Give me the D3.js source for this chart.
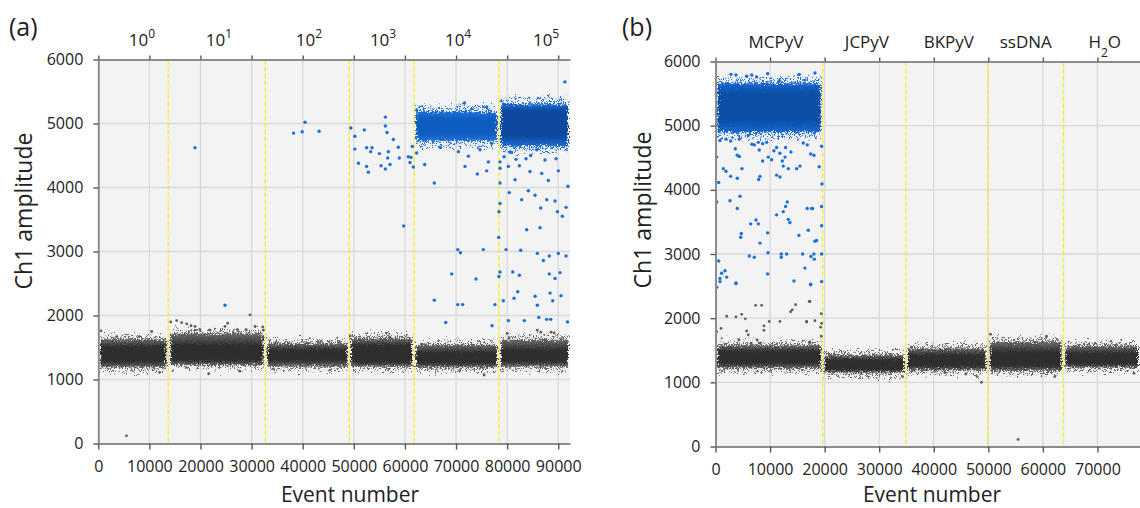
<!DOCTYPE html>
<html>
<head>
<meta charset="utf-8">
<script src="https://cdn.jsdelivr.net/npm/d3@7"></script>
<style>
  body { margin: 0; background: #fff; }
  svg text { font-family: "Open Sans", "Noto Sans", sans-serif; fill: #222; }
</style>
</head>
<body>
<svg id="chart" width="1140" height="508"></svg>
<script>
// ---- panel (a): dilution series ----
var wellStartA = [0, 13700, 32700, 49100, 61800, 78400];
var wellEndA   = [13700, 32700, 49100, 61800, 78400, 92300];
var wellLabelA = ["10^{0}", "10^{1}", "10^{2}", "10^{3}", "10^{4}", "10^{5}"];
var labelAtA   = [8550, 23620, 41230, 55720, 70400, 87620];
var negLoA     = [1190, 1225, 1200, 1200, 1190, 1200];
var negHiA     = [1630, 1720, 1565, 1640, 1540, 1620];
var negCoreLoA = [1280, 1300, 1300, 1270, 1260, 1280];
var negCoreHiA = [1510, 1530, 1460, 1530, 1420, 1460];
var posLoA     = [null, null, null, null, 4730, 4650];
var posHiA     = [null, null, null, null, 5180, 5300];
var posCoreLoA = [null, null, null, null, 4860, 4800];
var posCoreHiA = [null, null, null, null, 5070, 5200];

var blueA = [
  [18920,4620],[24790,2160],[38200,4850],[39900,4870],[40450,5020],[43200,4880],
  [49400,4930],[50200,4800],[52050,4900],[50200,4600],[50900,4380],[52500,4620],
  [53560,4620],[53300,4560],[52500,4330],[52840,4240],[55000,4530],[55330,4340],
  [56170,5100],[56170,4960],[56500,4860],[57730,4750],[56750,4560],[56630,4460],
  [57080,4360],[56170,4290],[58700,4630],[58900,4460],[60670,4480],[61000,4390],
  [61200,4470],[61640,4320],[61450,4640],[59760,3400],[62300,4540],[63870,4360],
  [65750,4070],[70340,3030],[70860,2980],[75340,3030],[69150,2650],[73900,2570],
  [65750,2240],[70340,2170],[71300,2170],[67990,1890],[77050,1840],[77600,2170],
  [78350,3220],[78400,3620],[78600,3750],[78600,2680],[78400,2610],[78600,4070],
  [80430,3920],[82850,3810],[84150,3950],[85460,3880],[86570,3680],[87740,3810],
  [89370,3790],[89830,3620],[91530,3690],[83830,3340],[86440,3370],[79790,3030],
  [82660,3020],[85910,2970],[87090,2860],[88260,2930],[90020,2970],[91530,2930],
  [81100,2680],[82390,2630],[88260,2650],[90350,2670],[89370,2580],[82070,2370],
  [81350,2270],[85460,2300],[88400,2350],[88920,2230],[90550,2310],[85910,2160],
  [79260,2230],[80240,1920],[83370,1920],[86190,1970],[87740,1940],[88530,1940],
  [80570,4550],[81740,4440],[83700,4450],[85790,4590],[87400,4430],[89570,4450],
  [80240,4330],[82390,4340],[84480,4250],[86770,4220],[88060,4110],[90020,4260],
  [78600,4400],[78600,4300],[81550,4120],[63600,4740],[66870,4630],[70460,4560],
  [72410,4490],[74170,4210],[76320,4400],[74700,4590],[71760,4330],[76000,4260],
  [76990,4690],[62300,5210],[71660,5320],[76000,5260],[91300,5650],[91800,1900],
  [90800,3550],[91900,4020],[84600,4500],[79400,4480]
];
var grayA = [
  [10450,1750],[8030,1670],[3600,1670],[530,1760],[14170,1900],[15340,1920],
  [16320,1890],[17300,1870],[18140,1840],[18920,1830],[19900,1780],[21860,1770],
  [25320,1880],[24790,1830],[27200,1780],[28900,1780],[29690,2010],[30670,1830],
  [32170,1820],[32290,1770],[5500,120],[21600,1090],[27700,1130],[12000,1110],
  [75500,1070],[70700,1140],[80000,1720],[80400,1650],[81500,1600],[85900,1770],
  [86600,1740],[88600,1740],[89200,1730],[49300,1680],[43000,1590],[57000,1660]
];

// ---- panel (b): specificity ----
var wellStartB = [0, 19630, 34890, 49910, 63770];
var wellEndB   = [19630, 34890, 49910, 63770, 77800];
var wellLabelB = ["MCPyV", "JCPyV", "BKPyV", "ssDNA", "H_{2}O"];
var labelAtB   = [11080, 27750, 42770, 56870, 71340];
var negLoB     = [1220, 1150, 1190, 1180, 1230];
var negHiB     = [1580, 1425, 1530, 1630, 1565];
var negCoreLoB = [1300, 1200, 1255, 1255, 1285];
var negCoreHiB = [1480, 1350, 1425, 1475, 1450];
var posLoB     = [4900, null, null, null, null];
var posHiB     = [5660, null, null, null, null];
var posCoreLoB = [5085, null, null, null, null];
var posCoreHiB = [5500, null, null, null, null];

var blueB = [
  [220,4510],[590,4115],[220,3810],[700,4910],[820,4770],[1920,4790],[2780,4760],
  [3630,4640],[4060,4890],[4360,4790],[6010,4850],[6680,4710],[7110,4700],[7840,4740],
  [8640,4720],[9380,4740],[8020,4620],[3990,4540],[4360,4520],[1430,4330],[1920,4290],
  [2780,4210],[3990,4180],[4850,4330],[7910,4160],[8150,4210],[8640,4450],[9670,4510],
  [10290,4470],[10710,4610],[11200,4660],[11810,4570],[12240,4450],[12420,4370],
  [12730,4510],[12850,4660],[11200,4230],[11810,4200],[13340,4330],[13830,4590],
  [14870,4330],[15480,4370],[16080,4730],[16810,4700],[17440,4560],[18040,4540],
  [19010,4360],[19450,4680],[19510,4090],[19450,3740],[19450,3440],[19450,3000],
  [19450,2570],[2660,3830],[4490,3900],[3990,3710],[4730,3320],[4620,3260],[6450,3470],
  [7420,3530],[7840,3470],[8150,3170],[9560,3330],[11200,3610],[12420,3660],[12850,3740],
  [13150,3810],[13340,3540],[13640,3490],[15290,3290],[15970,3000],[16810,3710],
  [17610,3710],[17000,3370],[17800,3710],[17490,2960],[18100,2920],[18220,3200],
  [18530,3210],[18040,3000],[16390,2780],[17440,2530],[14380,2580],[12050,3000],
  [12050,2950],[13040,3000],[9620,3020],[9560,2690],[6190,2970],[7110,2950],[3750,2550],
  [590,2890],[820,2620],[1130,2700],[1740,2740],[2050,2640],[220,2480],[820,2570],
  [3750,2540],[17440,2520],[2840,5800],[3750,5790],[5710,5770],[6630,5790],[7540,5760],
  [9560,5810],[15350,5800],[18220,5820],[11690,5700],[16390,5710]
];
var grayB = [
  [220,1790],[1010,1840],[2050,2030],[3750,2020],[4800,2060],[5460,1990],[4300,1660],
  [5710,1800],[6010,1740],[6500,1610],[7360,2200],[8460,2200],[7650,1660],[8150,1610],
  [8880,1880],[8880,1810],[9850,1950],[11810,1950],[13770,2100],[14070,2130],[14690,2210],
  [16700,1950],[17180,2260],[17310,1630],[17310,1540],[18220,1960],[19380,2070],
  [19450,1920],[19380,1720],[17310,2260],[16700,1940],[17180,1620],[19270,1860],
  [34290,1090],[42030,1150],[45880,1130],[47950,1090],[48750,1000],[55460,110],
  [62180,1090],[76700,1140],[50400,1750],[60660,1720],[35930,1550]
];

var yTicks = [0, 1000, 2000, 3000, 4000, 5000, 6000];

var svg = d3.select("#chart");
var defs = svg.append("defs");

// ragged, grainy edges for the dense clusters
function roughFilter(id, freq, scale) {
  var f = defs.append("filter").attr("id", id)
    .attr("x", "-5%").attr("y", "-60%").attr("width", "110%").attr("height", "220%");
  f.append("feTurbulence").attr("type", "fractalNoise").attr("baseFrequency", freq)
    .attr("numOctaves", 2).attr("seed", 4).attr("result", "noise");
  f.append("feDisplacementMap").attr("in", "SourceGraphic").attr("in2", "noise")
    .attr("scale", scale).attr("xChannelSelector", "R").attr("yChannelSelector", "G");
}
roughFilter("rough", 0.7, 9);
roughFilter("scatter", 0.35, 16);

function dotPattern(id, color) {
  var p = defs.append("pattern").attr("id", id).attr("patternUnits", "userSpaceOnUse")
    .attr("width", 11).attr("height", 9);
  [[2,2],[8,4],[5,7],[10,8],[1,6],[9,1],[5,3]].forEach(function(d) {
    p.append("circle").attr("cx", d[0]).attr("cy", d[1]).attr("r", 1.2).attr("fill", color);
  });
}
dotPattern("fringeGray", "#666");
dotPattern("fringeBlue", "#1f6fd6");

function richText(sel, s, small) {
  var parts = s.split(/([_^]\{[^}]*\})/);
  parts.forEach(function(t) {
    if (!t) return;
    if (t[0] === "^" || t[0] === "_") {
      sel.append("tspan").attr("font-size", small)
        .attr("baseline-shift", t[0] === "^" ? "super" : "sub").text(t.slice(2, -1));
    } else {
      sel.append("tspan").text(t);
    }
  });
}

var gradN = 0;
function bandGradient(lo, hi, cLo, cHi, edge, core) {
  var id = "bg" + (gradN++);
  var g = defs.append("linearGradient").attr("id", id)
    .attr("x1", 0).attr("y1", 0).attr("x2", 0).attr("y2", 1);
  var a = (hi - cHi) / (hi - lo), b = (hi - cLo) / (hi - lo);
  g.append("stop").attr("offset", 0).attr("stop-color", edge);
  g.append("stop").attr("offset", a).attr("stop-color", core);
  g.append("stop").attr("offset", b).attr("stop-color", core);
  g.append("stop").attr("offset", 1).attr("stop-color", edge);
  return "url(#" + id + ")";
}

function drawPanel(p) {
  var x = d3.scaleLinear().domain([0, p.xMax]).range([p.left, p.right]);
  var y = d3.scaleLinear().domain([0, 6000]).range([p.bottom, p.top]);
  var xTicks = d3.range(0, p.xMax, 10000);
  var g = svg.append("g");

  defs.append("clipPath").attr("id", "clip" + p.id).append("rect")
    .attr("x", p.left).attr("y", p.top)
    .attr("width", p.right - p.left).attr("height", p.bottom - p.top);

  g.append("rect").attr("x", p.left).attr("y", p.top)
    .attr("width", p.right - p.left).attr("height", p.bottom - p.top)
    .attr("fill", "#f3f3f3");

  g.append("g").selectAll("line").data(xTicks.slice(1)).enter().append("line")
    .attr("x1", x).attr("x2", x).attr("y1", p.top).attr("y2", p.bottom)
    .attr("stroke", "#d9d9d9").attr("stroke-width", 1.3);
  g.append("g").selectAll("line").data(yTicks.slice(1, -1)).enter().append("line")
    .attr("y1", y).attr("y2", y).attr("x1", p.left).attr("x2", p.right)
    .attr("stroke", "#d9d9d9").attr("stroke-width", 1.3);

  var plot = g.append("g").attr("clip-path", "url(#clip" + p.id + ")");
  var bands = plot.append("g");

  function band(i, lo, hi, cLo, cHi, fringe, fringeFill, edge, core) {
    var x0 = x(p.start[i]), x1 = x(p.end[i]);
    bands.append("rect").attr("x", x0 + 3).attr("width", x1 - x0 - 6)
      .attr("y", y(hi[i] + fringe)).attr("height", y(lo[i] - fringe) - y(hi[i] + fringe))
      .attr("fill", fringeFill).attr("filter", "url(#scatter)");
    bands.append("rect").attr("x", x0 + 2).attr("width", x1 - x0 - 4)
      .attr("y", y(hi[i])).attr("height", y(lo[i]) - y(hi[i]))
      .attr("fill", bandGradient(lo[i], hi[i], cLo[i], cHi[i], edge, core))
      .attr("filter", "url(#rough)");
  }

  p.start.forEach(function(s, i) {
    band(i, p.negLo, p.negHi, p.negCoreLo, p.negCoreHi, 70, "url(#fringeGray)", "#6c6c6c", "#2e2e2e");
    if (p.posLo[i] != null)
      band(i, p.posLo, p.posHi, p.posCoreLo, p.posCoreHi, 100, "url(#fringeBlue)", p.blueEdge[i], p.blueCore[i]);
  });

  plot.append("g").selectAll("line").data(p.start.slice(1)).enter().append("line")
    .attr("x1", x).attr("x2", x).attr("y1", p.top).attr("y2", p.bottom)
    .attr("stroke", "#f2ee3a").attr("stroke-width", 1.4).attr("stroke-dasharray", "5,2");

  plot.append("g").selectAll("circle").data(p.gray).enter().append("circle")
    .attr("cx", function(d) { return x(d[0]); }).attr("cy", function(d) { return y(d[1]); })
    .attr("r", 1.4).attr("fill", "#5c5c5c");
  plot.append("g").selectAll("circle").data(p.blue).enter().append("circle")
    .attr("cx", function(d) { return x(d[0]); }).attr("cy", function(d) { return y(d[1]); })
    .attr("r", 1.7).attr("fill", "#1a6fd8");

  // axes
  var fmt = d3.format("d");
  var ax = g.append("g").attr("transform", "translate(0," + p.bottom + ")")
    .call(d3.axisBottom(x).tickValues(xTicks).tickFormat(fmt)
      .tickSizeInner(6).tickSizeOuter(0).tickPadding(11));
  var ay = g.append("g").attr("transform", "translate(" + p.left + ",0)")
    .call(d3.axisLeft(y).tickValues(yTicks).tickFormat(fmt)
      .tickSizeInner(5).tickSizeOuter(0).tickPadding(10));
  var at = g.append("g").attr("transform", "translate(0," + p.top + ")")
    .call(d3.axisTop(x).tickValues(xTicks).tickSizeInner(4).tickSizeOuter(0).tickFormat(""));
  [ax, ay, at].forEach(function(a) {
    a.select(".domain").attr("stroke", "#8c8c8c").attr("stroke-width", 2);
    a.selectAll(".tick line").attr("stroke", "#555").attr("stroke-width", 1.4);
    a.selectAll(".tick text").attr("font-size", 16).attr("fill", "#222")
      .style("font-family", "'Open Sans', 'Noto Sans', sans-serif");
  });
  at.selectAll(".tick text").remove();

  // well labels above the plot
  g.append("g").selectAll("text").data(p.labels).enter().append("text")
    .attr("x", function(d, i) { return x(p.labelAt[i]); }).attr("y", p.top - 14)
    .attr("text-anchor", "middle").attr("font-size", 17)
    .each(function(d) { richText(d3.select(this), d, 12); });

  g.append("text").attr("x", p.tagX).attr("y", 36).attr("font-size", 25).text(p.tag);

  g.append("text").attr("transform", "translate(" + p.yTitleX + "," + p.yTitleY + ") rotate(-90)")
    .attr("text-anchor", "middle").attr("font-size", 23).text("Ch1 amplitude");
  g.append("text").attr("x", p.xTitleX).attr("y", 501.5)
    .attr("text-anchor", "middle").attr("font-size", 21).text("Event number");
}

drawPanel({
  id: "A", tag: "(a)", tagX: 9,
  left: 98.3, right: 570, top: 59.5, bottom: 443.5, xMax: 92300,
  start: wellStartA, end: wellEndA, labels: wellLabelA, labelAt: labelAtA,
  negLo: negLoA, negHi: negHiA, negCoreLo: negCoreLoA, negCoreHi: negCoreHiA,
  posLo: posLoA, posHi: posHiA, posCoreLo: posCoreLoA, posCoreHi: posCoreHiA,
  blueEdge: [null, null, null, null, "#1f6fd8", "#1c6ad2"],
  blueCore: [null, null, null, null, "#0d5cc0", "#0a4a9e"],
  blue: blueA, gray: grayA,
  yTitleX: 31.5, yTitleY: 211, xTitleX: 350
});

drawPanel({
  id: "B", tag: "(b)", tagX: 622,
  left: 715.5, right: 1140, top: 61.5, bottom: 446.5, xMax: 77800,
  start: wellStartB, end: wellEndB, labels: wellLabelB, labelAt: labelAtB,
  negLo: negLoB, negHi: negHiB, negCoreLo: negCoreLoB, negCoreHi: negCoreHiB,
  posLo: posLoB, posHi: posHiB, posCoreLo: posCoreLoB, posCoreHi: posCoreHiB,
  blueEdge: ["#1767d0", null, null, null, null],
  blueCore: ["#0a4fa6", null, null, null, null],
  blue: blueB, gray: grayB,
  yTitleX: 651, yTitleY: 210, xTitleX: 932
});
</script>
</body>
</html>
